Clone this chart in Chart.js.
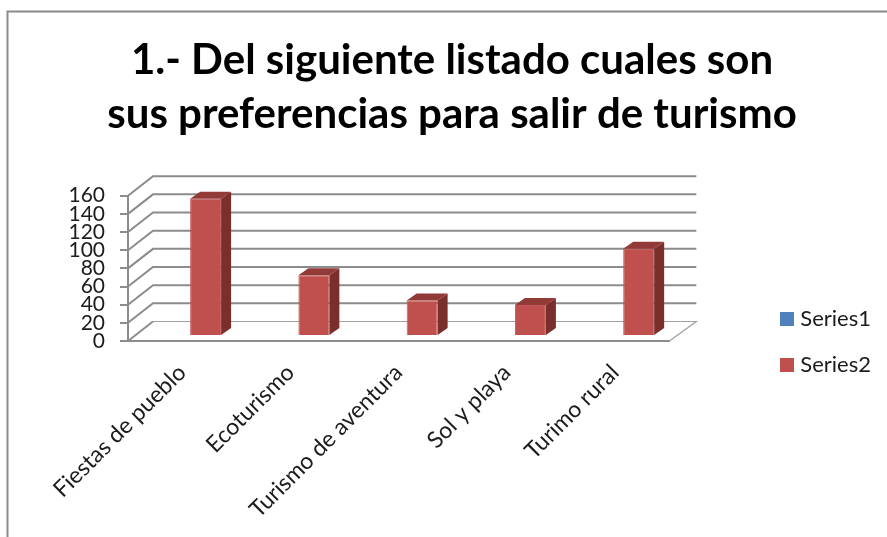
<!DOCTYPE html>
<html><head><meta charset="utf-8">
<style>html,body{margin:0;padding:0;background:#fff;overflow:hidden}#w{width:887px;height:537px;position:relative}canvas{filter:blur(0.45px)}</style>
<script src="https://cdn.jsdelivr.net/npm/chart.js@4"></script>
</head><body><div id="w"><canvas id="c" width="887" height="537"></canvas></div>
<script>
const categories = ["Fiestas de pueblo","Ecoturismo","Turismo de aventura","Sol y playa","Turimo rural"];
const series1Values = [null,null,null,null,null];
const series2Values = [151,67,39,34,96];
const titleLines = ["1.- Del siguiente listado cuales son","sus preferencias para salir de turismo"];
const yTicks = {min:0,max:160,step:20};
const FONT = "Lato, 'Open Sans', sans-serif";
const GRID = "#8c8c8c", TEXT = "#1c1c1c";
const depth = {dx:25, dy:19.5};
const barShift = {dx:8, dy:-5};
const barDepth = {dx:10, dy:7};

function swatch(color){
  const s = document.createElement('canvas'); s.width = 14; s.height = 14;
  const g = s.getContext('2d'); g.fillStyle = color; g.fillRect(0,0,14,14);
  return s;
}
const frame = {
  id:'frame',
  beforeDraw(chart){
    const c = chart.ctx; c.save();
    c.strokeStyle = "#8a8a8a"; c.lineWidth = 2;
    c.beginPath(); c.moveTo(7.5,540); c.lineTo(7.5,11.5); c.lineTo(890,11.5); c.stroke();
    c.restore();
  }
};
const walls = {
  id:'walls',
  beforeDatasetsDraw(chart){
    const c = chart.ctx, y = chart.scales.y, a = chart.chartArea;
    c.save(); c.strokeStyle = GRID; c.lineWidth = 2;
    for(let v = yTicks.min; v <= yTicks.max; v += yTicks.step){
      const p = y.getPixelForValue(v);
      c.beginPath(); c.moveTo(a.left,p); c.lineTo(a.left+depth.dx,p-depth.dy);
      if(v>0) c.lineTo(a.right+depth.dx+2,p-depth.dy);
      c.stroke();
    }
    const p0 = y.getPixelForValue(0);
    c.lineWidth = 1.2; c.strokeStyle = "#a0a0a0";
    c.beginPath(); c.moveTo(a.left+depth.dx,p0-depth.dy); c.lineTo(a.right+depth.dx+2,p0-depth.dy); c.lineTo(a.right,p0); c.stroke();
    c.restore();
  }
};
const bars3d = {
  id:'bars3d',
  beforeDatasetDraw(chart){ chart.ctx.save(); chart.ctx.translate(barShift.dx,barShift.dy); },
  afterDatasetDraw(chart,args){
    const c = chart.ctx;
    chart.getDatasetMeta(args.index).data.forEach((b,i)=>{
      if(chart.data.datasets[args.index].data[i]==null) return;
      const {x,y,base,width} = b.getProps(['x','y','base','width'],true);
      const l=x-width/2, r=x+width/2;
      c.fillStyle="#7b2f2d";
      c.beginPath(); c.moveTo(r,y); c.lineTo(r+barDepth.dx,y-barDepth.dy); c.lineTo(r+barDepth.dx,base-barDepth.dy); c.lineTo(r,base); c.closePath(); c.fill();
      c.fillStyle="#923a37";
      c.beginPath(); c.moveTo(l,y); c.lineTo(l+barDepth.dx,y-barDepth.dy); c.lineTo(r+barDepth.dx,y-barDepth.dy); c.lineTo(r,y); c.closePath(); c.fill();
    });
    c.restore();
  }
};
new Chart(document.getElementById('c'),{
  type:'bar',
  data:{labels:categories,datasets:[
    {label:"Series1",data:series1Values,backgroundColor:"#4F81BD",borderColor:"#4F81BD"},
    {label:"Series2",data:series2Values,backgroundColor:"#C0504D",borderColor:"#c5585a",borderWidth:1}
  ]},
  plugins:[frame,walls,bars3d],
  options:{
    responsive:false,animation:false,
    categoryPercentage:0.572,barPercentage:1,
    layout:{padding:{left:23,right:6,top:0,bottom:0}},
    plugins:{
      title:{display:true,text:titleLines,color:"#000",font:{family:FONT,size:42,weight:'bold',lineHeight:1.27},padding:{top:34,bottom:55}},
      legend:{position:'right',
        title:{display:true,text:' ',font:{size:1},padding:{top:146.5,bottom:0}},
        labels:{color:TEXT,font:{family:FONT,size:22},boxHeight:14,padding:24,usePointStyle:true,pointStyleWidth:5,
          generateLabels(chart){
            return Chart.defaults.plugins.legend.labels.generateLabels(chart).map(it=>{
              it.pointStyle = swatch(it.fillStyle); return it;
            });
          }}},
      tooltip:{enabled:false}
    },
    scales:{
      x:{
        grid:{display:false},
        border:{display:true,color:GRID,width:2},
        ticks:{autoSkip:false,minRotation:45,maxRotation:45,color:TEXT,font:{family:FONT,size:23},padding:10},
        afterFit(s){s.height=196;}
      },
      y:{
        min:yTicks.min,max:yTicks.max,
        grid:{drawOnChartArea:false,color:GRID,lineWidth:2,tickLength:8},
        border:{display:true,color:GRID,width:2},
        ticks:{autoSkip:false,stepSize:yTicks.step,color:TEXT,font:{family:FONT,size:21},padding:15},
        afterFit(s){s.width=105;}
      },
      spacer:{
        position:'right',display:true,
        grid:{display:false},border:{display:false},ticks:{display:false},
        afterFit(s){s.width=91;}
      }
    }
  }
});
</script></body></html>
